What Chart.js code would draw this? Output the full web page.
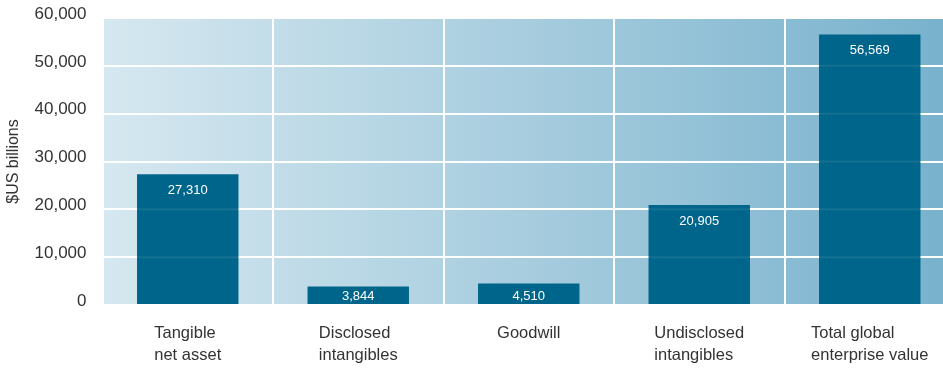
<!DOCTYPE html>
<html>
<head>
<meta charset="utf-8">
<script src="https://cdn.jsdelivr.net/npm/chart.js@4"></script>
<style>
  html, body { margin: 0; padding: 0; background: #fff; overflow: hidden; }
  #wrap { width: 955px; height: 368px; }
</style>
</head>
<body>
<div id="wrap"><canvas id="chart"></canvas></div>
<script>
const categories = [
  ['Tangible', 'net asset'],
  ['Disclosed', 'intangibles'],
  ['Goodwill'],
  ['Undisclosed', 'intangibles'],
  ['Total global', 'enterprise value']
];
const values = [27310, 3844, 4510, 20905, 56569];
const yMin = 0;
const yMax = 60000;
const yStep = 10000;

const FONT = 'Liberation Sans, Arial, Helvetica, sans-serif';

// gradient behind the plot area
const backdrop = {
  id: 'backdrop',
  beforeDraw(chart) {
    const { ctx, chartArea: a } = chart;
    const g = ctx.createLinearGradient(a.left, 0, a.right, 0);
    g.addColorStop(0, '#d6e8f0');
    g.addColorStop(1, '#77b1cc');
    ctx.save();
    ctx.fillStyle = g;
    ctx.fillRect(a.left, a.top, a.right - a.left, a.bottom - a.top);
    ctx.restore();
  }
};

// faint grid over the bars + value labels inside bar tops
const barText = {
  id: 'barText',
  afterDatasetsDraw(chart) {
    const { ctx, chartArea: a } = chart;
    const y = chart.scales.y;
    ctx.save();
    ctx.strokeStyle = 'rgba(255,255,255,0.08)';
    ctx.lineWidth = 2;
    y.ticks.forEach(t => {
      const py = y.getPixelForValue(t.value);
      ctx.beginPath();
      ctx.moveTo(a.left, py);
      ctx.lineTo(a.right, py);
      ctx.stroke();
    });
    ctx.fillStyle = '#ffffff';
    ctx.font = '13px ' + FONT;
    ctx.textAlign = 'center';
    ctx.textBaseline = 'middle';
    chart.getDatasetMeta(0).data.forEach((bar, i) => {
      const ty = Math.min(bar.y + 16.5, a.bottom - 9);
      ctx.fillText(values[i].toLocaleString('en-US'), bar.x, ty);
    });
    ctx.restore();
  }
};

// category labels: block centred, lines left aligned
const catLabels = {
  id: 'catLabels',
  afterDraw(chart) {
    const { ctx, chartArea: a } = chart;
    const x = chart.scales.x;
    ctx.save();
    ctx.fillStyle = '#333333';
    ctx.font = '16.5px ' + FONT;
    ctx.textAlign = 'left';
    ctx.textBaseline = 'alphabetic';
    categories.forEach((lines, i) => {
      const cx = x.getPixelForValue(i);
      const w = Math.max(...lines.map(l => ctx.measureText(l).width));
      lines.forEach((l, j) => {
        ctx.fillText(l, cx - w / 2, a.bottom + 33 + j * 21.5);
      });
    });
    ctx.restore();
  }
};

new Chart(document.getElementById('chart'), {
  type: 'bar',
  data: {
    labels: categories.map(c => c.join(' ')),
    datasets: [{
      data: values,
      backgroundColor: '#00658a',
      borderWidth: 0,
      barPercentage: 0.595,
      categoryPercentage: 1.0
    }]
  },
  options: {
    responsive: true,
    maintainAspectRatio: false,
    animation: false,
    layout: { padding: { top: 18, bottom: 63, left: 0, right: 0 } },
    plugins: {
      legend: { display: false },
      tooltip: { enabled: false }
    },
    scales: {
      x: {
        ticks: { display: false },
        grid: { color: '#ffffff', lineWidth: 2, drawTicks: false },
        border: { display: false }
      },
      y: {
        min: yMin,
        max: yMax,
        ticks: {
          stepSize: yStep,
          color: '#333333',
          font: { family: FONT, size: 17 },
          padding: 16,
          labelOffset: -4,
          callback: v => v.toLocaleString('en-US')
        },
        grid: { color: '#ffffff', lineWidth: 2, drawTicks: false },
        border: { display: false },
        title: {
          display: true,
          text: '$US billions',
          color: '#333333',
          font: { family: FONT, size: 16 },
          padding: { top: 4, bottom: 4 }
        },
        afterFit(scale) {
          scale.width = 102.5;
          scale.paddingTop = 0;
          scale.paddingBottom = 0;
        }
      }
    }
  },
  plugins: [backdrop, barText, catLabels]
});
</script>
</body>
</html>
